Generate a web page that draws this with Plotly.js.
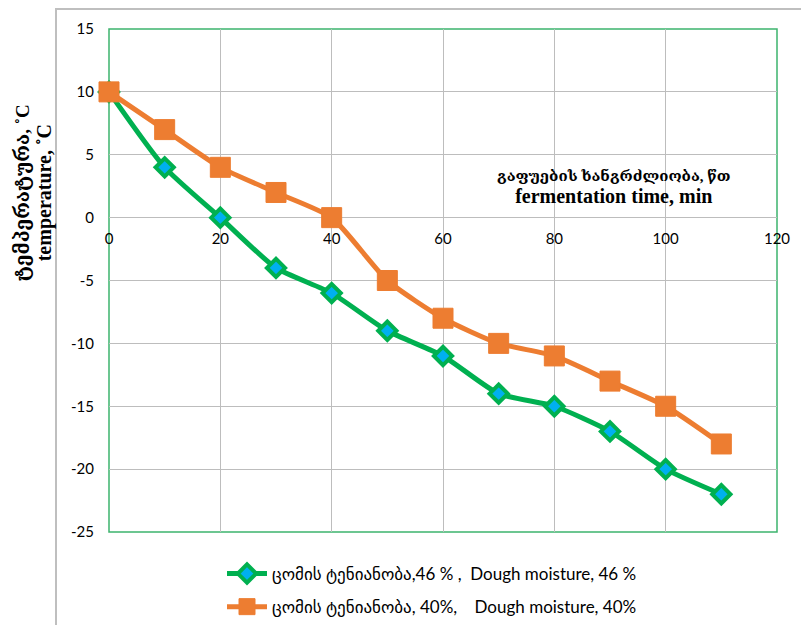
<!DOCTYPE html>
<html>
<head>
<meta charset="utf-8">
<script src="https://cdn.plot.ly/plotly-3.0.1.min.js"></script>
<style>html,body{margin:0;padding:0;background:#fff;}#chart{width:801px;height:625px;}</style>
</head>
<body>
<div id="chart"></div>
<script>
// Data
const fermentationTime = [0, 10, 20, 30, 40, 50, 60, 70, 80, 90, 100, 110];
const moisture46 = [10, 4, 0, -4, -6, -9, -11, -14, -15, -17, -20, -22];
const moisture40 = [10, 7, 4, 2, 0, -5, -8, -10, -11, -13, -15, -18];
const seriesNames = [
  'ცომის ტენიანობა,46 % ,\u00A0\u00A0Dough moisture, 46 %',
  'ცომის ტენიანობა, 40%,\u00A0\u00A0\u00A0\u00A0Dough moisture, 40%'
];
const xTickVals = [0, 20, 40, 60, 80, 100, 120];
const xTickText = ['0', '20', '40', '60', '80', '100', '120'];
const yTickVals = [15, 10, 5, 0, -5, -10, -15, -20, -25];
const yTickText = ['15', '10', '5', '0', '-5', '-10', '-15', '-20', '-25'];
const xTitleLines = ['გაფუების ხანგრძლიობა, წთ', 'fermentation time, min'];
const yTitleLines = ['ტემპერატურა, ˚C', 'temperature, ˚C'];

const W = 801, H = 625;
const px = (x) => x / W;
const py = (y) => 1 - y / H;
const plotL = 109, plotR = 777, plotT = 29, plotB = 532;

const sansFont = 'Lato, "DejaVu Sans", sans-serif';
const serifFont = '"Liberation Serif", "DejaVu Serif", serif';

const traces = [
  {
    x: fermentationTime, y: moisture46, name: seriesNames[0], legendgroup: 'g46',
    type: 'scatter', mode: 'lines+markers', cliponaxis: false,
    line: {color: '#00B050', width: 5, shape: 'spline', smoothing: 0.6},
    marker: {symbol: 'diamond', size: 14, color: '#00B0F0', line: {color: '#00B050', width: 4}}
  },
  {
    x: fermentationTime, y: moisture40, name: seriesNames[1], legendgroup: 'g40',
    type: 'scatter', mode: 'lines+markers', cliponaxis: false,
    line: {color: '#ED7D31', width: 5, shape: 'spline', smoothing: 0.6},
    marker: {symbol: 'square', size: 20, color: '#ED7D31', line: {color: '#ED7D31', width: 1}}
  }
];

const yMin = -25, yMax = 15;
const zeroPos = py(plotB) + (0 - yMin) / (yMax - yMin) * (py(plotT) - py(plotB));

const twoLine = (a, b, sa, sb) =>
  '<b><span style="font-size:' + sa + 'px">' + a + '</span></b><br>' +
  '<b><span style="font-size:' + sb + 'px">' + b + '</span></b>';

const layout = {
  width: W, height: H,
  margin: {l: 0, r: 0, t: 0, b: 0},
  paper_bgcolor: '#ffffff', plot_bgcolor: '#ffffff',
  showlegend: true,
  font: {family: sansFont, size: 15, color: '#000'},
  xaxis: {
    domain: [px(plotL), px(plotR)],
    range: [0, 120], tickmode: 'array', tickvals: xTickVals, ticktext: xTickText,
    anchor: 'free', position: zeroPos,
    showgrid: true, gridcolor: '#BDBDBD', gridwidth: 1,
    zeroline: false, showline: false, ticks: '',
    ticklabelstandoff: 10,
    tickfont: {family: sansFont, size: 15, color: '#000'}
  },
  yaxis: {
    domain: [py(plotB), py(plotT)],
    range: [yMin, yMax], tickmode: 'array', tickvals: yTickVals, ticktext: yTickText,
    showgrid: true, gridcolor: '#BDBDBD', gridwidth: 1,
    zeroline: false, showline: false, ticks: '',
    ticklabelstandoff: 14,
    tickfont: {family: sansFont, size: 15, color: '#000'}
  },
  legend: {
    x: px(222), y: py(556), xanchor: 'left', yanchor: 'top',
    orientation: 'v', bgcolor: 'rgba(0,0,0,0)',
    font: {family: sansFont, size: 17, color: '#000'},
    itemwidth: 40, tracegroupgap: 8
  },
  annotations: [
    {
      xref: 'paper', yref: 'paper', x: px(614), y: py(187),
      xanchor: 'center', yanchor: 'middle', showarrow: false,
      text: twoLine(xTitleLines[0], xTitleLines[1], 15, 20),
      font: {family: serifFont, size: 17, color: '#000'}, align: 'center'
    },
    {
      xref: 'paper', yref: 'paper', x: px(34), y: py(193),
      xanchor: 'center', yanchor: 'middle', showarrow: false, textangle: -90,
      text: twoLine(yTitleLines[0], yTitleLines[1], 19, 20),
      font: {family: serifFont, size: 17, color: '#000'}, align: 'center'
    }
  ],
  shapes: [
    {type: 'rect', xref: 'paper', yref: 'paper', x0: px(56), x1: px(820), y0: py(640), y1: py(9),
     line: {color: '#BFBFBF', width: 2}, layer: 'below'},
    {type: 'rect', xref: 'paper', yref: 'paper', x0: px(plotL), x1: px(plotR), y0: py(plotB), y1: py(plotT),
     line: {color: '#3DB46D', width: 1.5}, layer: 'below'}
  ]
};

Plotly.newPlot('chart', traces, layout, {displayModeBar: false, staticPlot: true});
</script>
</body>
</html>
